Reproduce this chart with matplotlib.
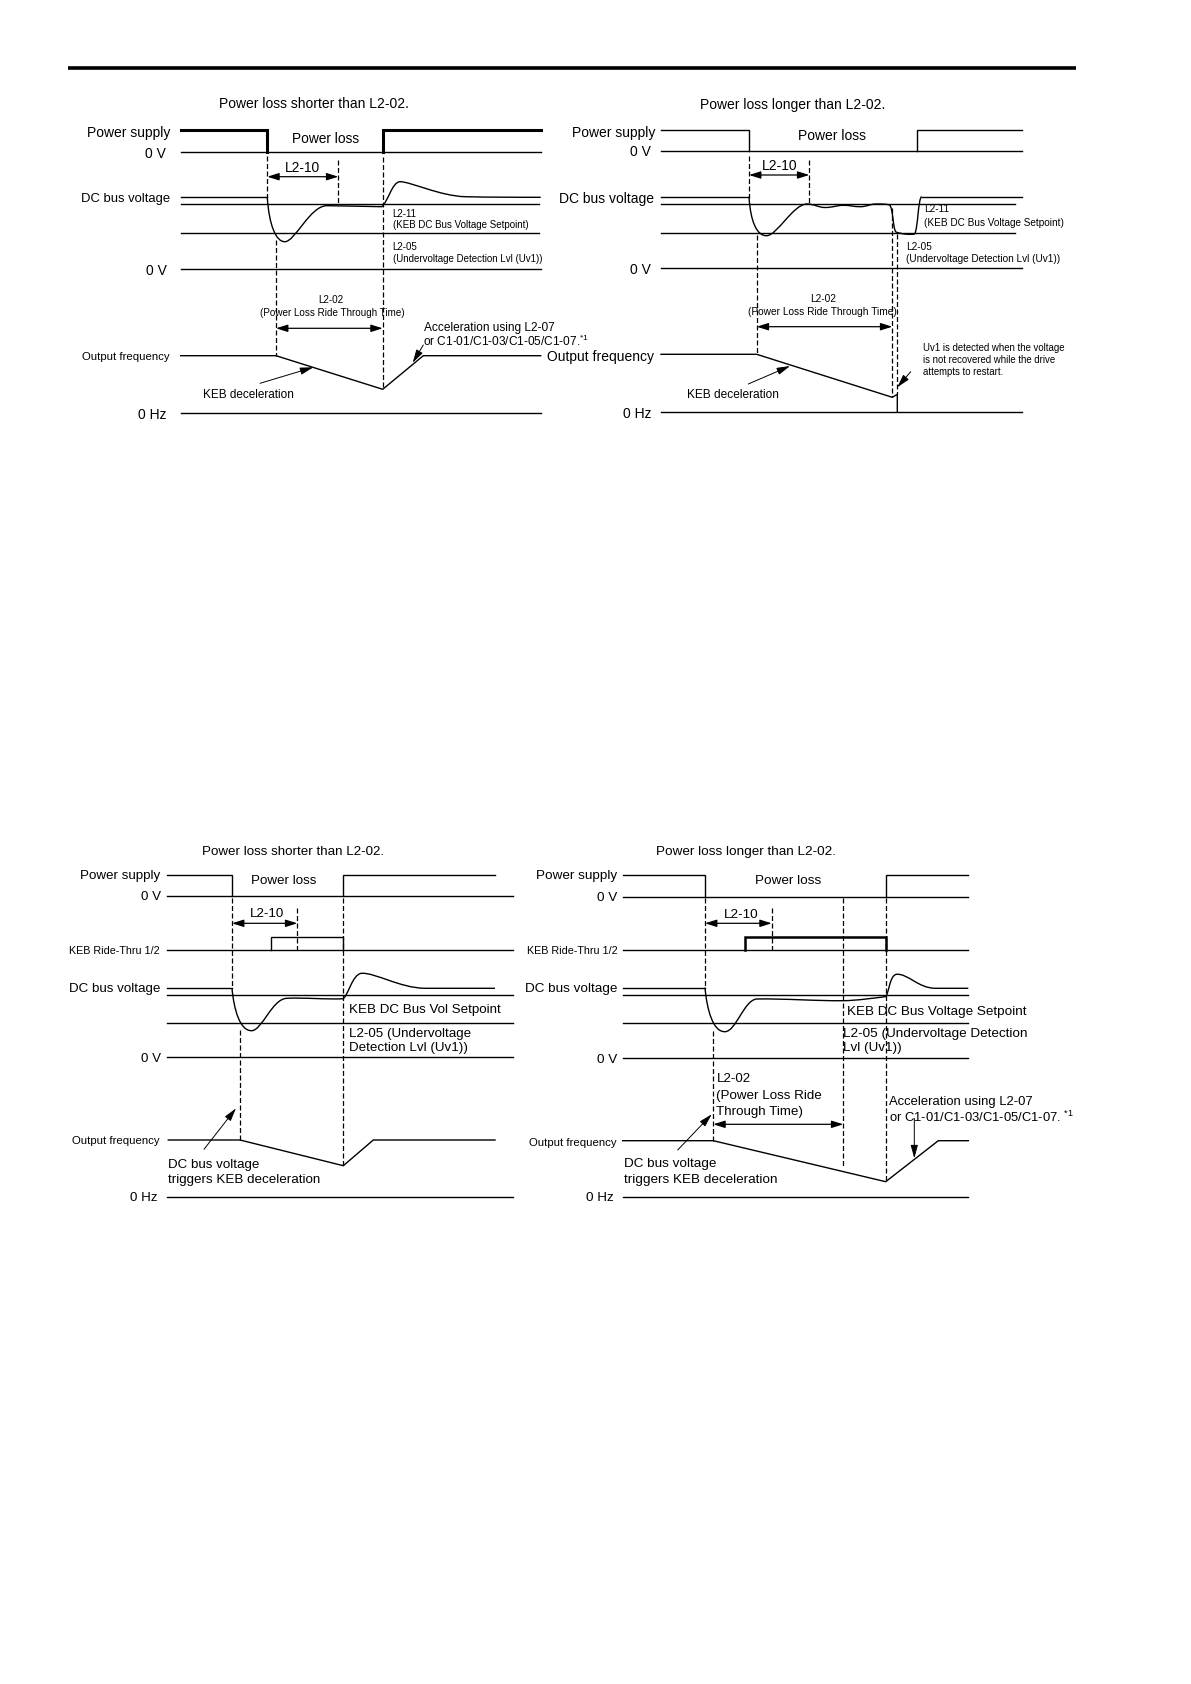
import matplotlib
matplotlib.use("Agg")
import matplotlib.pyplot as plt
from matplotlib.path import Path
from matplotlib.patches import PathPatch
from matplotlib import font_manager as fm

W, H = 1191, 1684
FONT = "Liberation Sans"
_names = {f.name for f in fm.fontManager.ttflist}
HAS_NARROW = "Liberation Sans Narrow" in _names

# ---------------- data (page pixel units) ----------------
# Top-left panel: power loss shorter than L2-02 (no KEB Ride-Thru)
tl_supply_a = [(180.7, 130), (267.3, 130), (267.3, 152.3)]
tl_supply_b = [(382.7, 152.3), (382.7, 130), (540.7, 130)]
tl_levels = [(152.3, 180.7, 540.7), (197.3, 180.7, 267.3), (204.3, 180.7, 539),
             (233.3, 180.7, 539), (269.3, 180.7, 540.7), (413.3, 180.7, 540.7)]
tl_dc = [(267.3, 197.3), (269, 225), (276, 242), (285, 241.7),
         (295, 241.5), (310, 206), (326.7, 205.7),
         (345, 205.8), (365, 206.5), (381.7, 206.7),
         (388, 202), (392, 182), (400, 181.7),
         (410, 181.5), (440, 196), (465, 196.7),
         (490, 197.3), (515, 197.3), (540.7, 197.3)]
tl_freq = [(180.7, 355.7), (276, 355.7), (382.7, 389.3), (423.3, 355.7), (540.7, 355.7)]
tl_dashes = [(267.3, 156, 197), (276, 240, 355.7), (338.3, 160, 205), (382.7, 156.7, 389.3)]

# Top-right panel: power loss longer than L2-02 (no KEB Ride-Thru)
tr_supply_a = [(661, 130), (749, 130), (749, 151)]
tr_supply_b = [(916.7, 151), (916.7, 130), (1021.7, 130)]
tr_levels = [(151, 661, 1021.7), (196.7, 661, 749), (196.7, 921.7, 1021.7),
             (203.8, 661, 1015), (232.5, 661, 1015), (268.3, 661, 1021.7),
             (412.3, 661, 1021.7)]
tr_dc = [(749, 196.7), (750.5, 222), (757, 236), (766.7, 235.7),
         (777, 235.5), (793, 204.5), (806.7, 204),
         (814, 203.8), (818, 207.5), (825, 207.5),
         (833, 207.5), (837, 205.3), (843, 205.3),
         (850, 205.3), (854, 206.7), (860, 206.7),
         (867, 206.7), (870, 204), (876, 204),
         (882, 204), (887, 204), (889.5, 205),
         (893, 207), (893, 230), (896, 232),
         (901, 234), (910, 235), (914.5, 234),
         (918, 230), (918, 198), (921.7, 196.7)]
tr_freq = [(661, 354.3), (756.7, 354.3), (892.3, 397.3), (897.3, 394.3), (897.3, 412.3)]
tr_dashes = [(749, 156, 196.7), (756.7, 235, 354.3), (809.3, 160, 204),
             (892.3, 208, 397.3), (896.7, 234, 394.3)]

# Bottom-left panel: power loss shorter than L2-02 (KEB Ride-Thru input)
bl_supply_a = [(166.7, 875), (232, 875), (232, 896)]
bl_supply_b = [(343.3, 896), (343.3, 875), (495, 875)]
bl_levels = [(896, 166.7, 512.7), (950, 166.7, 512.7), (988.3, 166.7, 232),
             (995, 166.7, 512.7), (1023.3, 166.7, 512.7), (1057.3, 166.7, 512.7),
             (1196.7, 166.7, 512.7)]
bl_keb = [(270.7, 950), (270.7, 936.7), (343.3, 936.7), (343.3, 950)]
bl_dc = [(232, 988.3), (234, 1010), (240, 1031), (251.7, 1030.7),
         (262, 1030.5), (272, 999), (286.7, 998.3),
         (305, 997.5), (325, 999.5), (342.7, 998.8),
         (348, 997), (352, 974), (361.7, 973.3),
         (375, 972.5), (400, 988), (425, 988.3),
         (450, 988.3), (470, 988.3), (495, 988.3)]
bl_freq = [(168.3, 1140), (240, 1140), (343.3, 1165.7), (373.3, 1140), (495, 1140)]
bl_dashes = [(232, 898, 988), (240, 1030, 1140), (297.3, 908, 950), (343.3, 898, 1165.7)]

# Bottom-right panel: power loss longer than L2-02 (KEB Ride-Thru input)
br_supply_a = [(622.7, 875), (705, 875), (705, 896.7)]
br_supply_b = [(885.7, 896.7), (885.7, 875), (968.3, 875)]
br_levels = [(896.7, 622.7, 968.3), (950, 622.7, 968.3), (987.7, 622.7, 705),
             (995, 622.7, 968.3), (1023.3, 622.7, 968.3), (1058.3, 622.7, 968.3),
             (1196.7, 622.7, 968.3)]
br_keb = [(745, 950), (745, 936.7), (886, 936.7), (886, 950)]
br_dc = [(705, 987.7), (707, 1010), (713, 1032), (725, 1031.7),
         (736, 1031.5), (744, 1000), (756.7, 999),
         (785, 998.5), (815, 1001), (843.3, 1000.7),
         (858, 1000.5), (874, 998), (885, 996.7),
         (889, 996), (889, 975), (896.7, 974.3),
         (908, 973.5), (918, 988), (935, 988.3),
         (946, 988.3), (957, 988.3), (968.3, 988.3)]
br_freq = [(622.7, 1140.7), (713.3, 1140.7), (885.7, 1181.7), (938.3, 1140.7), (968.3, 1140.7)]
br_dashes = [(705, 898, 987.7), (713.3, 1031, 1140.7), (771.7, 908, 950),
             (843.3, 898, 1168), (885.7, 898, 1181.7)]

# ---------------- drawing ----------------
fig = plt.figure(figsize=(W / 100, H / 100), dpi=100)
ax = fig.add_axes([0, 0, 1, 1])
ax.set_xlim(0, W)
ax.set_ylim(H, 0)
ax.axis("off")

LW = 1.0
DASH = (0, (4, 2))


def poly(pts, lw=LW, **kw):
    xs, ys = zip(*pts)
    ax.plot(xs, ys, color="black", lw=lw, solid_joinstyle="miter", **kw)


def levels(lv):
    for y, x0, x1 in lv:
        ax.plot([x0, x1], [y, y], color="black", lw=LW)


def dashes(ds):
    for x, y0, y1 in ds:
        ax.plot([x, x], [y0, y1], color="black", lw=0.9, linestyle=DASH)


def curve(pts, lw=LW):
    codes = [Path.MOVETO] + [Path.CURVE4] * (len(pts) - 1)
    ax.add_patch(PathPatch(Path(pts, codes), fill=False, lw=lw, ec="black"))


def darrow(x0, x1, y):
    ax.annotate("", xy=(x1, y), xytext=(x0, y),
                arrowprops=dict(arrowstyle="<|-|>,head_length=0.7,head_width=0.22",
                                color="black", lw=0.9, shrinkA=0, shrinkB=0,
                                mutation_scale=10))


def parrow(p0, p1):
    ax.annotate("", xy=p1, xytext=p0,
                arrowprops=dict(arrowstyle="-|>,head_length=0.8,head_width=0.22",
                                color="black", lw=0.7, shrinkA=0, shrinkB=0,
                                mutation_scale=10))


def txt(x, y, s, size, ha="left", narrow=False):
    if narrow:
        if HAS_NARROW:
            fam, sz = ["Liberation Sans Narrow", FONT], size
        else:
            fam, sz = [FONT], size * 0.82
    else:
        fam, sz = [FONT], size
    ax.text(x, y, s, fontsize=sz, ha=ha, va="center_baseline", family=fam, color="black")


# page header rule
ax.plot([68, 1076], [67.5, 67.5], color="black", lw=2.6, solid_capstyle="butt")

# ===== Top-left =====
poly(tl_supply_a, lw=2.2)
poly(tl_supply_b, lw=2.2)
levels(tl_levels)
curve(tl_dc)
poly(tl_freq)
dashes(tl_dashes)
darrow(267.3, 338.3, 176.7)
darrow(276, 382.7, 328.3)
txt(313.8, 103, "Power loss shorter than L2-02.", 10, ha="center")
txt(170, 131.7, "Power supply", 10, ha="right")
txt(166, 152.3, "0 V", 10, ha="right")
txt(170, 197.3, "DC bus voltage", 9.4, ha="right")
txt(166.7, 269.3, "0 V", 10, ha="right")
txt(170, 355.7, "Output frequency", 10, ha="right", narrow=True)
txt(166.7, 413.3, "0 Hz", 10, ha="right")
txt(325.7, 137.3, "Power loss", 9.9, ha="center")
txt(302.7, 166.7, "L2-10", 9.9, ha="center")
txt(392.7, 212.7, "L2-11", 7.0)
txt(392.7, 224.3, "(KEB DC Bus Voltage Setpoint)", 7.0)
txt(392.7, 246.5, "L2-05", 7.0)
txt(392.7, 257.5, "(Undervoltage Detection Lvl (Uv1))", 7.0)
txt(331, 299.3, "L2-02", 7.1, ha="center")
txt(332.7, 311.7, "(Power Loss Ride Through Time)", 7.1, ha="center")
txt(424, 326.7, "Acceleration using L2-07", 8.6)
txt(422.7, 340, r"or C1-01/C1-03/C1-05/C1-07.$^{\mathregular{*1}}$", 8.6)
parrow((423.3, 345), (412.7, 362.7))
txt(203.3, 393.3, "KEB deceleration", 8.5)
parrow((260, 383.3), (313.3, 367.3))

# ===== Top-right =====
poly(tr_supply_a)
poly(tr_supply_b)
levels(tr_levels)
curve(tr_dc)
poly(tr_freq)
dashes(tr_dashes)
darrow(749, 809.3, 175)
darrow(756.7, 892.3, 326.7)
txt(792.5, 104, "Power loss longer than L2-02.", 10, ha="center")
txt(655, 131.7, "Power supply", 10, ha="right")
txt(650.7, 151, "0 V", 10, ha="right")
txt(654.3, 197.3, "DC bus voltage", 10, ha="right")
txt(650.7, 268.3, "0 V", 10, ha="right")
txt(654.3, 355, "Output frequency", 10, ha="right")
txt(651.7, 412.3, "0 Hz", 10, ha="right")
txt(832.3, 134, "Power loss", 10, ha="center")
txt(780, 165, "L2-10", 10, ha="center")
txt(924.3, 208.3, "L2-11", 7.2)
txt(924.3, 221.7, "(KEB DC Bus Voltage Setpoint)", 7.2)
txt(905.7, 246, "L2-05", 7.2)
txt(905.7, 257.5, "(Undervoltage Detection Lvl (Uv1))", 7.2)
txt(823.3, 298.3, "L2-02", 7.3, ha="center")
txt(822.7, 311, "(Power Loss Ride Through Time)", 7.3, ha="center")
txt(923.3, 347.3, "Uv1 is detected when the voltage", 6.9)
txt(923.3, 359.3, "is not recovered while the drive", 6.9)
txt(923.3, 371, "attempts to restart.", 6.9)
parrow((910.7, 371.7), (897.3, 387.3))
txt(686.7, 393.3, "KEB deceleration", 8.6)
parrow((748.3, 384), (790, 366))

# ===== Bottom-left =====
poly(bl_supply_a)
poly(bl_supply_b)
levels(bl_levels)
poly(bl_keb)
curve(bl_dc)
poly(bl_freq)
dashes(bl_dashes)
darrow(232, 297.3, 923.3)
txt(293.3, 850.7, "Power loss shorter than L2-02.", 9.6, ha="center")
txt(160.7, 875, "Power supply", 9.6, ha="right")
txt(160.7, 896, "0 V", 9.6, ha="right")
txt(160, 950, "KEB Ride-Thru 1/2", 9.5, ha="right", narrow=True)
txt(160.7, 987.7, "DC bus voltage", 9.6, ha="right")
txt(160.7, 1057.3, "0 V", 9.6, ha="right")
txt(160, 1140, "Output frequency", 10, ha="right", narrow=True)
txt(157.3, 1196.7, "0 Hz", 9.6, ha="right")
txt(283.3, 879.3, "Power loss", 9.6, ha="center")
txt(267.3, 912.7, "L2-10", 9.6, ha="center")
txt(349.3, 1008.3, "KEB DC Bus Vol Setpoint", 9.6)
txt(349.3, 1032.3, "L2-05 (Undervoltage", 9.6)
txt(349.3, 1046.7, "Detection Lvl (Uv1))", 9.6)
txt(168.3, 1163.3, "DC bus voltage", 9.6)
txt(168.3, 1178.3, "triggers KEB deceleration", 9.6)
parrow((204, 1149.3), (236, 1108.3))

# ===== Bottom-right =====
poly(br_supply_a)
poly(br_supply_b)
levels(br_levels)
poly(br_keb, lw=1.8)
curve(br_dc)
poly(br_freq)
dashes(br_dashes)
darrow(705, 771.7, 923.3)
darrow(713.3, 843.3, 1124.3)
txt(745.8, 850, "Power loss longer than L2-02.", 9.7, ha="center")
txt(617.3, 875, "Power supply", 9.7, ha="right")
txt(617.3, 896.7, "0 V", 9.7, ha="right")
txt(617.3, 950, "KEB Ride-Thru 1/2", 9.5, ha="right", narrow=True)
txt(617.3, 987.3, "DC bus voltage", 9.7, ha="right")
txt(617.3, 1058.3, "0 V", 9.7, ha="right")
txt(616.7, 1141.7, "Output frequency", 10, ha="right", narrow=True)
txt(614, 1196.7, "0 Hz", 9.7, ha="right")
txt(787.7, 879.3, "Power loss", 9.7, ha="center")
txt(740.7, 913.3, "L2-10", 9.7, ha="center")
txt(846.7, 1010, "KEB DC Bus Voltage Setpoint", 9.7)
txt(843.3, 1032.3, "L2-05 (Undervoltage Detection", 9.7)
txt(843.3, 1046.7, "Lvl (Uv1))", 9.7)
txt(716.5, 1077.7, "L2-02", 9.6)
txt(716.5, 1095, "(Power Loss Ride", 9.6)
txt(716.5, 1110.7, "Through Time)", 9.6)
txt(889, 1100.7, "Acceleration using L2-07", 9.4)
txt(889, 1115.5, r"or C1-01/C1-03/C1-05/C1-07. $^{\mathregular{*1}}$", 9.4)
parrow((914.3, 1118.3), (914.3, 1158.3))
txt(624.3, 1162.3, "DC bus voltage", 9.7)
txt(624.3, 1178.3, "triggers KEB deceleration", 9.7)
parrow((677.7, 1150), (711.7, 1114.3))

fig.savefig("out.png", dpi=100, facecolor="white")
